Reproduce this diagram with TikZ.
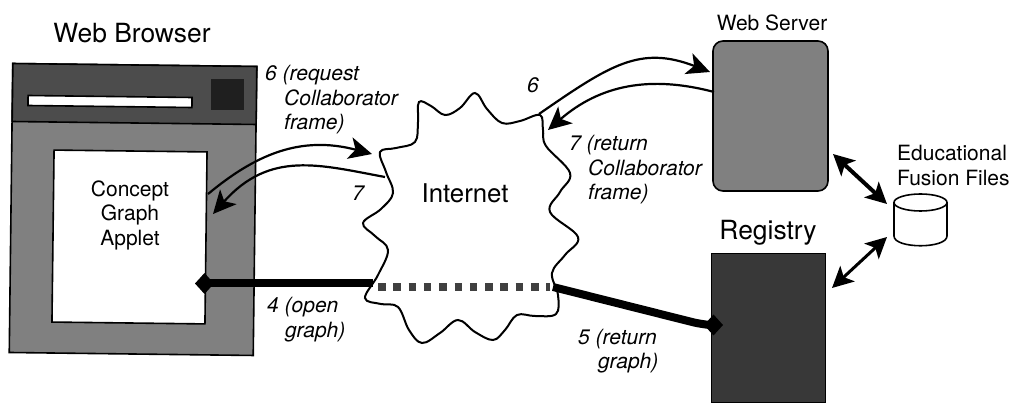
\documentclass[tikz,border=0pt]{standalone}
\usepackage{fontspec}
\setmainfont{TeX Gyre Heros}
\usetikzlibrary{arrows.meta}

\tikzset{
  box/.style={draw=black,line width=1.6pt,inner sep=0pt},
  title/.style={font=\fontsize{26.4}{30}\selectfont,inner sep=0pt},
  plain/.style={font=\fontsize{21}{24.5}\selectfont,inner sep=0pt,align=center},
  tag/.style={font=\itshape\fontsize{21}{24.5}\selectfont,inner sep=0pt,align=left,anchor=west},
  flow/.style={line width=2.2pt,-{Stealth[length=23pt,width=22pt,inset=6pt]}},
  link/.style={line width=8pt,-{Diamond[length=19pt,width=21pt]}},
  store/.style={{Stealth[length=21pt,width=21pt,inset=5pt]}-{Stealth[length=21pt,width=21pt,inset=5pt]}}
}

\begin{document}
\begin{tikzpicture}[x=1pt,y=-1pt]
  \useasboundingbox (0,0) rectangle (1013,403);

  % browser window
  \node[box,fill=black!50,rotate=-0.7,minimum width=244pt,minimum height=289pt] (browser) at (133,209.5) {};
  \node[box,fill=black!70,rotate=-0.7,minimum width=244pt,minimum height=58pt] (bar) at (134.5,94) {};
  \node[box,fill=white,rotate=-0.7,minimum width=164pt,minimum height=10pt] (urlbar) at (110,101.5) {};
  \node[fill=black!88,inner sep=0pt,minimum width=33pt,minimum height=31pt] (button) at (227.5,95) {};
  \node[box,fill=white,rotate=-0.7,minimum width=153pt,minimum height=172pt] (applet) at (129.5,237) {};

  \node[box,fill=black!50,rounded corners=10pt,minimum width=115pt,minimum height=150pt] (server) at (770.5,116) {};
  \node[fill=black!78,draw=black,line width=1pt,inner sep=0pt,minimum width=114pt,minimum height=149pt] (registry) at (768,328.5) {};

  % file store
  \draw[line width=1.6pt] (920.5,202.5) ellipse [x radius=26.5,y radius=8.5];
  \draw[line width=1.6pt] (894,202.5) -- (894,236) .. controls (894,249) and (947,249) .. (947,236) -- (947,202.5);

  % cloud
  \draw[line width=2pt,fill=white] plot[smooth cycle,tension=0.62] coordinates {
    (380,152) (396,148) (415,142) (418,122) (419,102) (431,106) (445,115) (460,108) (475,93) (487,109)
    (502,123) (520,121) (540,115) (543,130) (546,146) (570,173) (560,192) (550,212) (578,237) (565,255)
    (552,273) (558,295) (556,314) (535,316) (517,315) (505,330) (493,340) (475,332) (458,320) (440,333)
    (422,343) (409,330) (398,307) (381,304) (365,298) (378,275) (388,250) (375,236) (363,223) (381,209)
    (393,193) (386,172)};

  \node[font=\fontsize{25.8}{30}\selectfont,inner sep=0pt] (internet) at (465,193) {Internet};

  \coordinate (appletout) at (208,194);
  \coordinate (appletin) at (213,214);
  \coordinate (cloudwin) at (372,154);
  \coordinate (cloudwout) at (385,177);
  \coordinate (cloudnout) at (539,114);
  \coordinate (cloudnin) at (548,130);
  \coordinate (serverin) at (710,72);
  \coordinate (serverout) at (714,92);
  \coordinate (cloudw) at (373,283.5);
  \coordinate (cloude) at (553,287);
  \coordinate (gapw) at (378,287);
  \coordinate (gape) at (550,287);
  \coordinate (appletport) at (195,283.5);
  \coordinate (registryport) at (723,325);
  \coordinate (serverfiles) at (833,154);
  \coordinate (filesup) at (887,204);
  \coordinate (filesdown) at (887,237);
  \coordinate (registryfiles) at (832,288);

  \draw[flow] (appletout) .. controls (255,155) and (300,135) .. (cloudwin);
  \draw[flow] (cloudwout) .. controls (320,165) and (270,150) .. (appletin);
  \draw[flow] (cloudnout) .. controls (610,65) and (640,45) .. (serverin);
  \draw[flow] (serverout) .. controls (650,75) and (600,85) .. (cloudnin);

  \draw[link] (cloudw) -- (appletport);
  \draw[link] (cloude) -- (692,322) .. controls (700,324) and (710,325) .. (registryport);
  \draw[line width=8pt,draw=black!75,dash pattern=on 7.5pt off 7.8pt] (gapw) -- (gape);

  \draw[store,line width=4pt] (serverfiles) -- (filesup);
  \draw[store,line width=3pt] (filesdown) -- (registryfiles);

  % labels
  \node[title] (browsertitle) at (132,33) {Web Browser};
  \node[plain] (serverlabel) at (772,23) {Web Server};
  \node[title] (registrytitle) at (768,233) {Registry};
  \node[plain,align=left,anchor=west] (fileslabel) at (897,165.5) {Educational\\Fusion Files};
  \node[plain] (appletlabel) at (130,215) {Concept\\Graph\\Applet};

  \node[tag] (req) at (265,100) {6 (request\\\hspace*{19pt}Collaborator\\\hspace*{19pt}frame)};
  \node[tag] (retleft) at (352,193) {7};
  \node[tag] (reqright) at (527,85) {6};
  \node[tag] (ret) at (569,170) {7 (return\\\hspace*{19pt}Collaborator\\\hspace*{19pt}frame)};
  \node[tag] (open) at (267,319.5) {4 (open\\\hspace*{18pt}graph)};
  \node[tag] (retgraph) at (578,351) {5 (return\\\hspace*{20pt}graph)};
\end{tikzpicture}
\end{document}
